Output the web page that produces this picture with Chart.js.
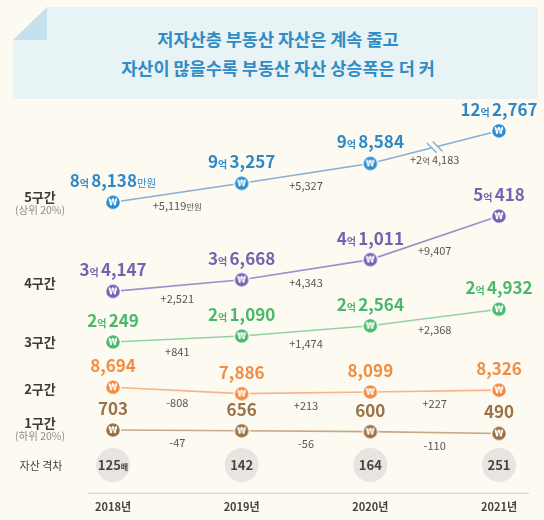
<!DOCTYPE html>
<html><head><meta charset="utf-8">
<script src="https://cdn.jsdelivr.net/npm/chart.js@4/dist/chart.umd.min.js"></script>
<style>
html,body{margin:0;padding:0;background:#fdfaf2;}
#wrap{position:relative;width:544px;height:520px;overflow:hidden;background:#fdfaf2;font-family:'Noto Sans CJK KR','Noto Sans',sans-serif;}
#chart{position:absolute;left:0;top:0;}
.box{position:absolute;left:13px;top:7px;width:525px;height:92px;background:#e7f3f5;clip-path:polygon(34px 0,100% 0,100% 100%,0 100%,0 33px);}
.fold{position:absolute;left:13px;top:7px;width:34px;height:33px;background:#c4e2ee;clip-path:polygon(100% 0,100% 100%,0 100%);}
.lab{position:absolute;transform:translate(-50%,-50%);white-space:nowrap;line-height:1;text-align:center;}
.title{font-weight:700;font-size:17.5px;color:#2f8cc6;}
.row{font-weight:700;font-size:13px;color:#3a3a3a;}
.sub{font-size:10.5px;color:#8d8d8d;}
.gapl{font-size:11px;color:#444;}
</style></head>
<body>
<div id="wrap">
  <div class="box"></div>
  <div class="fold"></div>
  <div class="lab title" style="left:278px;top:39px">저자산층 부동산 자산은 계속 줄고</div>
  <div class="lab title" style="left:278px;top:68px">자산이 많을수록 부동산 자산 상승폭은 더 커</div>
  <canvas id="chart" width="544" height="520"></canvas>
  <div class="lab row" style="left:40px;top:196px">5구간</div>
  <div class="lab sub" style="left:40px;top:210px">(상위 20%)</div>
  <div class="lab row" style="left:40px;top:282px">4구간</div>
  <div class="lab row" style="left:40px;top:341px">3구간</div>
  <div class="lab row" style="left:40px;top:388px">2구간</div>
  <div class="lab row" style="left:40px;top:422px">1구간</div>
  <div class="lab sub" style="left:40px;top:436px">(하위 20%)</div>
  <div class="lab gapl" style="left:41px;top:465px">자산 격차</div>
</div>
<script>
// ---- data (단위: 만원) ----
const years = ['2018년', '2019년', '2020년', '2021년'];
const tier5 = [88138, 93257, 98584, 122767];
const tier4 = [34147, 36668, 41011, 50418];
const tier3 = [20249, 21090, 22564, 24932];
const tier2 = [8694, 7886, 8099, 8326];
const tier1 = [703, 656, 600, 490];
const gapRatio = [125, 142, 164, 251];

const FONT = "'Noto Sans CJK KR','Noto Sans',sans-serif";

// linear scale with an axis break (for the 5구간 jump)
class BrokenLinearScale extends Chart.LinearScale {
  getPixelForValue(value) {
    const b = this.options.axisBreak;
    if (b && value > b.at) value -= b.gap;
    return super.getPixelForValue(value);
  }
}
BrokenLinearScale.id = 'brokenLinear';
BrokenLinearScale.defaults = Chart.LinearScale.defaults;
Chart.register(BrokenLinearScale);

function coin(color) {
  const c = document.createElement('canvas');
  c.width = 18; c.height = 18;
  const x = c.getContext('2d');
  x.beginPath(); x.arc(9, 9, 7.5, 0, Math.PI * 2);
  x.fillStyle = color; x.fill();
  x.lineWidth = 1.4; x.strokeStyle = '#ffffff'; x.stroke();
  x.fillStyle = '#ffffff';
  x.font = "bold 8px 'DejaVu Sans'";
  x.textAlign = 'center'; x.textBaseline = 'middle';
  x.fillText('₩', 9, 9.5);
  return c;
}

const series = [
  { data: tier5, axis: 'y5', line: '#86afd3', point: '#2b8dcf', text: '#2d88c6', unitFirst: true },
  { data: tier4, axis: 'y4', line: '#9d8fcb', point: '#7a62b1', text: '#7860ae' },
  { data: tier3, axis: 'y3', line: '#8fd3a3', point: '#4cbb6c', text: '#48b86a' },
  { data: tier2, axis: 'y2', line: '#f8b487', point: '#f58b3e', text: '#f28c40' },
  { data: tier1, axis: 'y1', line: '#c6a883', point: '#9c7242', text: '#9a7246' }
];

const datasets = series.map(s => ({
  data: s.data,
  yAxisID: s.axis,
  borderColor: s.line,
  borderWidth: 1.6,
  tension: 0,
  pointStyle: coin(s.point),
  pointRadius: 8,
  clip: false
}));
datasets.push({
  data: gapRatio.map(() => 0),
  yAxisID: 'yGap',
  showLine: false,
  pointStyle: 'circle',
  pointRadius: 17,
  pointBackgroundColor: '#e8e5e1',
  pointBorderWidth: 0,
  borderColor: 'rgba(0,0,0,0)',
  clip: false
});

function comma(n) { return n.toLocaleString('en-US'); }
function richParts(v, big, small) {
  const parts = [];
  const a = Math.abs(v);
  if (a >= 10000) {
    parts.push({ t: String(Math.floor(a / 10000)), f: big });
    parts.push({ t: '억', f: small });
    parts.push({ t: ' ', f: small });
    parts.push({ t: comma(a % 10000), f: big });
  } else {
    parts.push({ t: comma(a), f: big });
  }
  return parts;
}
function drawRich(ctx, parts, cx, baseY, color) {
  let w = 0;
  parts.forEach(p => { ctx.font = p.f; p.w = ctx.measureText(p.t).width; w += p.w; });
  let x = cx - w / 2;
  ctx.fillStyle = color;
  ctx.textAlign = 'left';
  ctx.textBaseline = 'alphabetic';
  parts.forEach(p => { ctx.font = p.f; ctx.fillText(p.t, x, baseY); x += p.w; });
}

const labelPlugin = {
  id: 'labels',
  beforeDatasetsDraw(chart) {
    const ctx = chart.ctx;
    const xs = chart.scales.x;
    ctx.save();
    ctx.strokeStyle = '#dccbbd';
    ctx.lineWidth = 1;
    ctx.beginPath();
    ctx.moveTo(xs.left - 25, chart.chartArea.bottom + 0.5);
    ctx.lineTo(xs.right + 30, chart.chartArea.bottom + 0.5);
    ctx.stroke();
    ctx.restore();
  },
  afterDatasetsDraw(chart) {
    const ctx = chart.ctx;
    ctx.save();
    series.forEach((s, si) => {
      const pts = chart.getDatasetMeta(si).data;
      pts.forEach((p, i) => {
        const parts = richParts(s.data[i], `bold 17px ${FONT}`, `bold 10px ${FONT}`);
        if (s.unitFirst && i === 0) parts.push({ t: '만원', f: `10.5px ${FONT}` });
        drawRich(ctx, parts, p.x, p.y - 15, s.text);
      });
      for (let i = 0; i < pts.length - 1; i++) {
        const d = s.data[i + 1] - s.data[i];
        const mx = (pts[i].x + pts[i + 1].x) / 2;
        const my = (pts[i].y + pts[i + 1].y) / 2;
        const parts = richParts(d, `11px ${FONT}`, `8.5px ${FONT}`);
        parts.unshift({ t: d >= 0 ? '+' : '-', f: `11px ${FONT}` });
        if (s.unitFirst && i === 0) parts.push({ t: '만원', f: `8.5px ${FONT}` });
        drawRich(ctx, parts, mx, my + 17, '#555555');
      }
    });
    // axis break marks on 5구간 last segment
    const m5 = chart.getDatasetMeta(0).data;
    const a = m5[2], b = m5[3];
    const cx = (a.x + b.x) / 2, cy = (a.y + b.y) / 2;
    const ang = Math.atan2(b.y - a.y, b.x - a.x);
    ctx.translate(cx, cy);
    ctx.rotate(ang);
    ctx.fillStyle = '#fdfaf2';
    ctx.fillRect(-2.5, -3, 5, 6);
    ctx.strokeStyle = series[0].line;
    ctx.lineWidth = 1.4;
    [-3, 3].forEach(o => {
      ctx.beginPath();
      ctx.moveTo(o - 3.5, -6);
      ctx.lineTo(o + 3.5, 6);
      ctx.stroke();
    });
    ctx.setTransform(1, 0, 0, 1, 0, 0);
    // gap ratio labels
    const gm = chart.getDatasetMeta(series.length).data;
    gm.forEach((p, i) => {
      const parts = [{ t: String(gapRatio[i]), f: `bold 13px ${FONT}` }];
      if (i === 0) parts.push({ t: '배', f: `bold 8px ${FONT}` });
      drawRich(ctx, parts, p.x, p.y + 5, '#454545');
    });
    ctx.restore();
  }
};

const hidden = (min, max) => ({ type: 'linear', display: false, min, max });

new Chart(document.getElementById('chart'), {
  type: 'line',
  data: { labels: years, datasets },
  options: {
    responsive: false,
    animation: false,
    events: [],
    layout: { padding: { left: 113, right: 45, top: 95, bottom: 0 } },
    plugins: { legend: { display: false }, tooltip: { enabled: false } },
    scales: {
      x: {
        type: 'category',
        offset: false,
        grid: { display: false, drawTicks: false },
        border: { display: false },
        ticks: { color: '#444', padding: 7, font: { family: FONT, size: 11, weight: 'bold' } }
      },
      y5: { type: 'brokenLinear', display: false, min: 10000, max: 117000, axisBreak: { at: 100000, gap: 15400 } },
      y4: hidden(-9400, 76600),
      y3: hidden(-1350, 55600),
      y2: hidden(-4500, 45200),
      y1: hidden(-3220, 21640),
      yGap: hidden(-1, 13.3)
    }
  },
  plugins: [labelPlugin]
});
</script>
</body></html>
